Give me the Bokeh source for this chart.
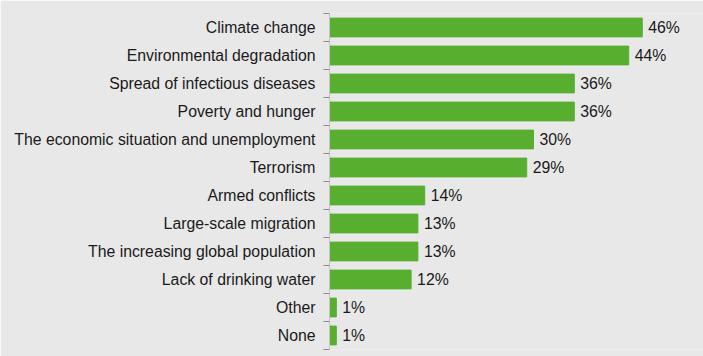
from bokeh.plotting import figure
from bokeh.models import Range1d, FixedTicker, ColumnDataSource
from bokeh.core.properties import value
from bokeh.embed import file_html
from bokeh.resources import INLINE

categories = ["Climate change", "Environmental degradation", "Spread of infectious diseases",
              "Poverty and hunger", "The economic situation and unemployment", "Terrorism",
              "Armed conflicts", "Large-scale migration", "The increasing global population",
              "Lack of drinking water", "Other", "None"]
values = [46, 44, 36, 36, 30, 29, 14, 13, 13, 12, 1, 1]
value_labels = [f"{v}%" for v in values]

BG = "#e8e8e8"
GREEN = "#57ae2f"
FONT = "Liberation Sans"
FSIZE = "15.8px"

n = len(categories)
ypos = list(range(n))
src = ColumnDataSource(dict(y=ypos, v=values, lab=value_labels, cat=categories))

p = figure(width=703, height=356, output_backend="svg", toolbar_location=None,
           x_range=Range1d(0, 55.0), y_range=Range1d(n - 0.5, -0.5),
           min_border_left=329, min_border_right=0, min_border_top=13, min_border_bottom=7,
           background_fill_color=BG, border_fill_color=BG, outline_line_color=None)

p.hbar(y="y", left=0, right="v", height=0.67, color=GREEN, source=src)
p.text(x="v", y="y", text="lab", x_offset=6, text_baseline="middle", text_align="left",
       text_font=value(FONT), text_font_size=FSIZE, text_color="#1a1a1a", source=src)

p.xaxis.visible = False
p.grid.visible = False

ax = p.yaxis[0]
ax.ticker = FixedTicker(ticks=ypos, minor_ticks=[i - 0.5 for i in range(n + 1)])
ax.major_label_overrides = {i: c for i, c in enumerate(categories)}
ax.major_tick_out = 0
ax.major_tick_in = 0
ax.minor_tick_out = 6
ax.minor_tick_in = 0
ax.minor_tick_line_color = "#8a8a8a"
ax.axis_line_color = "#c4c4c4"
ax.major_label_standoff = 8
ax.major_label_text_font = FONT
ax.major_label_text_font_size = FSIZE
ax.major_label_text_color = "#1a1a1a"

html = file_html(p, INLINE)
html = html.replace("<body>", '<body style="background:%s; overflow:hidden">' % BG, 1)
open("out.html", "w").write(html)
